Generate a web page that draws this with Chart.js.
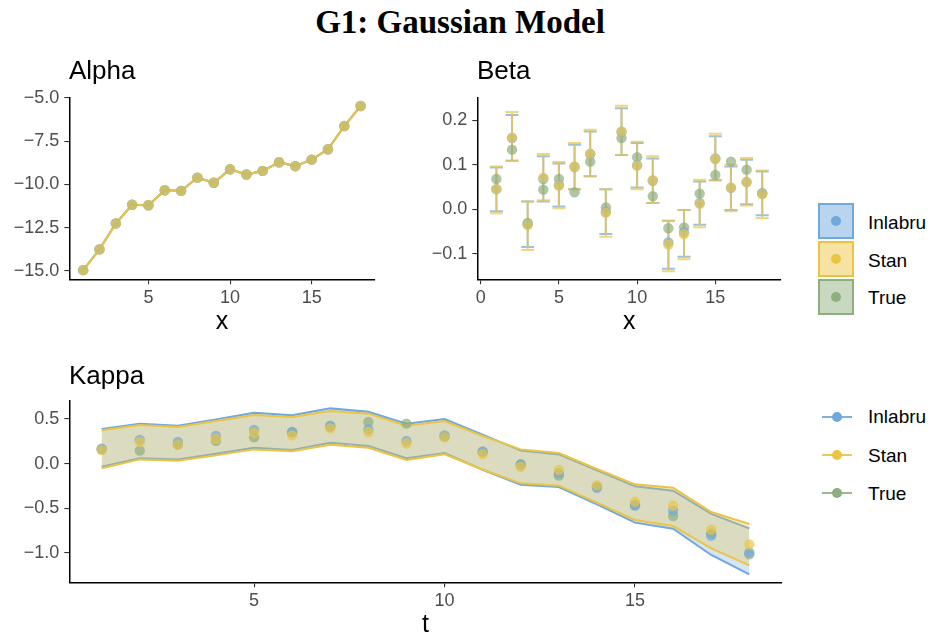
<!DOCTYPE html>
<html><head><meta charset="utf-8">
<script src="https://cdn.jsdelivr.net/npm/chart.js@4.4.1/dist/chart.umd.min.js"></script>
<style>
body{margin:0;width:931px;height:642px;background:#fff;position:relative;overflow:hidden;font-family:"Liberation Sans",Arial,sans-serif;}
canvas{position:absolute;}
.t{position:absolute;white-space:nowrap;color:#000;line-height:1;z-index:5;}
.ptitle{font-size:26px;}
.leg{font-size:19px;}
.box{position:absolute;width:32px;height:32px;border:2px solid;z-index:5;}
.box i{position:absolute;left:11px;top:11px;width:10px;height:10px;border-radius:50%;}
.lk{position:absolute;width:30px;height:2.5px;z-index:5;}
.lk i{position:absolute;left:10px;top:-3.75px;width:10px;height:10px;border-radius:50%;}
</style></head><body>
<div class="t" style="left:0;width:920px;text-align:center;top:6px;font-family:'Liberation Serif',serif;font-weight:bold;font-size:33px;">G1: Gaussian Model</div>
<div class="t ptitle" style="left:69px;top:57px;">Alpha</div>
<div class="t ptitle" style="left:477px;top:57px;">Beta</div>
<div class="t ptitle" style="left:69px;top:362px;">Kappa</div>

<div class="box" style="left:818px;top:203px;border-color:#6FA8DC;background:#B9D4EF;"><i style="background:#6FA8DC"></i></div>
<div class="box" style="left:818px;top:241px;border-color:#EBC444;background:#F6E2A2;"><i style="background:#EBC444"></i></div>
<div class="box" style="left:818px;top:279px;border-color:#8FAE7E;background:#C9D8C0;"><i style="background:#8FAE7E"></i></div>
<div class="t leg" style="left:868px;top:213px;">Inlabru</div>
<div class="t leg" style="left:868px;top:251px;">Stan</div>
<div class="t leg" style="left:868px;top:288px;">True</div>

<div class="lk" style="left:822px;top:415.5px;background:#7FB0DF;"><i style="background:#6FA8DC"></i></div>
<div class="lk" style="left:822px;top:453.5px;background:#EEC95A;"><i style="background:#EBC444"></i></div>
<div class="lk" style="left:822px;top:491.5px;background:#9DB68D;"><i style="background:#8FAE7E"></i></div>
<div class="t leg" style="left:868px;top:407px;">Inlabru</div>
<div class="t leg" style="left:868px;top:446px;">Stan</div>
<div class="t leg" style="left:868px;top:484px;">True</div>

<canvas id="cA" width="390" height="270" style="left:0;top:70px;"></canvas>
<canvas id="cB" width="390" height="270" style="left:400px;top:70px;"></canvas>
<canvas id="cK" width="790" height="262" style="left:0;top:380px;"></canvas>
<script>
// ---------- data ----------
const xs = [1,2,3,4,5,6,7,8,9,10,11,12,13,14,15,16,17,18];

const alphaTrue    = [-14.95,-13.75,-12.25,-11.17,-11.20,-10.33,-10.37,-9.60,-9.90,-9.12,-9.42,-9.21,-8.71,-8.94,-8.56,-7.96,-6.62,-5.46];
const alphaInlabru = [-14.95,-13.75,-12.25,-11.17,-11.20,-10.33,-10.37,-9.60,-9.90,-9.12,-9.42,-9.21,-8.71,-8.94,-8.56,-7.96,-6.62,-5.46];
const alphaStan    = [-14.95,-13.75,-12.25,-11.17,-11.20,-10.33,-10.37,-9.60,-9.90,-9.12,-9.42,-9.21,-8.71,-8.94,-8.56,-7.96,-6.62,-5.46];

const betaTrue      = [0.068,0.134,-0.031,0.044,0.068,0.038,0.107,0.004,0.160,0.117,0.029,-0.043,-0.041,0.035,0.077,0.107,0.089,0.035];
const betaInlabru   = [0.045,0.160,-0.034,0.068,0.054,0.095,0.124,-0.006,0.174,0.099,0.064,-0.075,-0.052,0.014,0.114,0.048,0.061,0.036];
const betaInlabruLo = [-0.005,0.109,-0.085,0.017,0.006,0.045,0.074,-0.056,0.122,0.049,0.014,-0.134,-0.107,-0.035,0.065,-0.002,0.011,-0.014];
const betaInlabruHi = [0.094,0.212,0.017,0.119,0.103,0.145,0.175,0.045,0.227,0.149,0.114,-0.026,-0.002,0.062,0.164,0.096,0.111,0.085];
const betaStan      = [0.045,0.161,-0.035,0.071,0.053,0.096,0.125,-0.008,0.175,0.098,0.065,-0.080,-0.056,0.012,0.113,0.049,0.061,0.034];
const betaStanLo    = [-0.009,0.109,-0.092,0.020,0.002,0.045,0.074,-0.062,0.122,0.045,0.014,-0.140,-0.113,-0.041,0.065,-0.005,0.008,-0.020];
const betaStanHi    = [0.096,0.219,0.017,0.124,0.106,0.149,0.179,0.045,0.233,0.152,0.119,-0.026,-0.002,0.066,0.170,0.100,0.115,0.087];

const kappaTrue      = [0.160,0.146,0.213,0.257,0.295,0.354,0.414,0.466,0.448,0.302,0.134,-0.015,-0.134,-0.257,-0.463,-0.586,-0.780,-1.015];
const kappaInlabru   = [0.168,0.265,0.243,0.310,0.377,0.354,0.425,0.384,0.254,0.317,0.134,-0.007,-0.108,-0.269,-0.470,-0.526,-0.806,-0.993];
const kappaInlabruLo = [-0.034,0.060,0.048,0.112,0.179,0.153,0.235,0.198,0.060,0.119,-0.068,-0.235,-0.261,-0.455,-0.660,-0.728,-1.022,-1.239];
const kappaInlabruHi = [0.388,0.448,0.425,0.496,0.571,0.541,0.619,0.582,0.448,0.500,0.325,0.146,0.104,-0.075,-0.254,-0.302,-0.563,-0.724];
const kappaStan      = [0.153,0.243,0.213,0.280,0.347,0.317,0.396,0.354,0.228,0.295,0.108,-0.034,-0.071,-0.243,-0.425,-0.470,-0.739,-0.903];
const kappaStanLo    = [-0.052,0.048,0.034,0.093,0.160,0.138,0.213,0.179,0.041,0.104,-0.065,-0.220,-0.246,-0.437,-0.630,-0.698,-0.948,-1.138];
const kappaStanHi    = [0.373,0.433,0.410,0.478,0.545,0.522,0.590,0.560,0.425,0.478,0.310,0.160,0.119,-0.060,-0.231,-0.269,-0.541,-0.675];

const alphaXTicks = [5,10,15];           const alphaXLabels = ['5','10','15'];
const alphaYTicks = [-15,-12.5,-10,-7.5,-5]; const alphaYLabels = ['\u221215.0','\u221212.5','\u221210.0','\u22127.5','\u22125.0'];
const betaXTicks  = [0,5,10,15];         const betaXLabels  = ['0','5','10','15'];
const betaYTicks  = [-0.1,0,0.1,0.2];    const betaYLabels  = ['\u22120.1','0.0','0.1','0.2'];
const kappaXTicks = [5,10,15];           const kappaXLabels = ['5','10','15'];
const kappaYTicks = [-1,-0.5,0,0.5];     const kappaYLabels = ['\u22121.0','\u22120.5','0.0','0.5'];

// ---------- styles ----------
const BLUE = '#6FA8DC', YEL = '#EBC444', GRN = '#8FAE7E';
const BLUEa = 'rgba(111,168,220,0.7)', YELa = 'rgba(235,196,68,0.7)', GRNa = 'rgba(143,174,126,0.7)';
const FONT = 'Liberation Sans';
const pts = (ys) => xs.map((x,i)=>({x, y: ys[i]}));

function xScale(min,max,ticks,labels,title,xh,tpad){
  return {type:'linear',position:'bottom',min,max,
    afterBuildTicks: s => { s.ticks = ticks.map(v=>({value:v})); },
    afterFit: s => { s.height = xh; },
    grid:{display:true,drawOnChartArea:false,drawTicks:true,tickLength:5,color:'#333',lineWidth:1.1},
    border:{display:true,color:'#000',width:1.5},
    ticks:{font:{family:FONT,size:18},color:'#4D4D4D',padding:3,maxRotation:0,autoSkip:false,
      callback:(v,i)=>labels[i]},
    title:{display:true,text:title,color:'#000',font:{family:FONT,size:25},padding:{top:0,bottom:tpad}}
  };
}
function yScale(min,max,ticks,labels,yw){
  return {type:'linear',position:'left',min,max,
    afterBuildTicks: s => { s.ticks = ticks.map(v=>({value:v})); },
    afterFit: s => { s.width = yw; },
    grid:{display:true,drawOnChartArea:false,drawTicks:true,tickLength:5,color:'#333',lineWidth:1.1},
    border:{display:true,color:'#000',width:1.5},
    ticks:{font:{family:FONT,size:18},color:'#4D4D4D',padding:5,autoSkip:false,
      callback:(v,i)=>labels[i]}
  };
}
function baseOpts(pad, scales){
  return {responsive:false,animation:false,devicePixelRatio:1,
    layout:{padding:pad},
    plugins:{legend:{display:false},tooltip:{enabled:false},title:{display:false}},
    elements:{point:{borderWidth:0}},
    scales};
}
function ptsDS(ys,color,order){
  return {data:pts(ys),showLine:false,pointRadius:5.2,pointBackgroundColor:color,pointBorderWidth:0,order};
}
function lineDS(ys,color,order,width){
  return {data:pts(ys),showLine:true,pointRadius:0,borderColor:color,borderWidth:width,fill:false,order,tension:0};
}

// ---------- Alpha ----------
new Chart(document.getElementById('cA'), {
  type:'scatter',
  data:{datasets:[
    lineDS(alphaInlabru,BLUE,6,2.2),
    lineDS(alphaStan,'#E9C24A',5,2.2),
    ptsDS(alphaTrue,GRNa,3),
    ptsDS(alphaInlabru,BLUEa,2),
    ptsDS(alphaStan,YELa,1)
  ]},
  options: baseOpts({top:27.7,right:15.5,left:0,bottom:0},{
    x:xScale(0.15,18.85,alphaXTicks,alphaXLabels,'x',60.7,3),
    y:yScale(-15.48,-4.98,alphaYTicks,alphaYLabels,69.3)
  })
});

// ---------- Beta ----------
const errorBars = {
  id:'errorBars',
  beforeDatasetsDraw(chart){
    const {ctx, scales:{x,y}} = chart;
    const sets = [[betaInlabruLo,betaInlabruHi,BLUEa],[betaStanLo,betaStanHi,YELa]];
    ctx.save();
    ctx.lineWidth = 2;
    for (const [lo,hi,col] of sets){
      ctx.strokeStyle = col;
      xs.forEach((xv,i)=>{
        const px = x.getPixelForValue(xv), p1 = y.getPixelForValue(lo[i]), p2 = y.getPixelForValue(hi[i]);
        const hw = 6.5;
        ctx.beginPath();
        ctx.moveTo(px,p1); ctx.lineTo(px,p2);
        ctx.moveTo(px-hw,p1); ctx.lineTo(px+hw,p1);
        ctx.moveTo(px-hw,p2); ctx.lineTo(px+hw,p2);
        ctx.stroke();
      });
    }
    ctx.restore();
  }
};
new Chart(document.getElementById('cB'), {
  type:'scatter',
  data:{datasets:[
    ptsDS(betaTrue,GRNa,3),
    ptsDS(betaInlabru,BLUEa,2),
    ptsDS(betaStan,YELa,1)
  ]},
  options: baseOpts({top:27.7,right:9,left:0,bottom:0},{
    x:xScale(-0.22,19.2,betaXTicks,betaXLabels,'x',60.7,3),
    y:yScale(-0.158,0.251,betaYTicks,betaYLabels,77.3)
  }),
  plugins:[errorBars]
});

// ---------- Kappa ----------
const kLo1 = lineDS(kappaInlabruLo,BLUE,10,2); kLo1.fill = {target:'+1'}; kLo1.backgroundColor='rgba(111,168,220,0.3)';
const kHi1 = lineDS(kappaInlabruHi,BLUE,9,2);
const kLo2 = lineDS(kappaStanLo,YEL,8,2); kLo2.fill = {target:'+1'}; kLo2.backgroundColor='rgba(235,196,68,0.3)';
const kHi2 = lineDS(kappaStanHi,YEL,7,2);
new Chart(document.getElementById('cK'), {
  type:'scatter',
  data:{datasets:[
    kLo1,kHi1,kLo2,kHi2,
    ptsDS(kappaTrue,GRNa,3),
    ptsDS(kappaInlabru,BLUEa,2),
    ptsDS(kappaStan,YELa,1)
  ]},
  options: baseOpts({top:20.7,right:8.3,left:0,bottom:0},{
    x:xScale(0.15,18.85,kappaXTicks,kappaXLabels,'t',59.7,2),
    y:yScale(-1.328,0.705,kappaYTicks,kappaYLabels,69.3)
  })
});
</script>
</body></html>
